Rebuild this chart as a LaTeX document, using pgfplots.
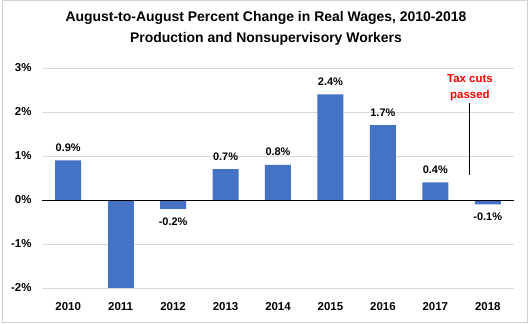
\documentclass[border=0pt]{standalone}
\usepackage{pgfplots}
\pgfplotsset{compat=1.18}
\usepackage{fontspec}
\setmainfont{Liberation Sans}
\definecolor{barblue}{HTML}{4472C4}
\definecolor{gridgray}{HTML}{D9D9D9}
\definecolor{framegray}{HTML}{D0D0D0}
\begin{document}
\begin{tikzpicture}
\useasboundingbox (-42bp,-36bp) rectangle (490bp,288bp);
\draw[framegray] (-39.5bp,-34bp) rectangle (485.5bp,287.5bp);
\node[font=\bfseries\fontsize{14}{21}\selectfont, align=center] at (224bp,260bp)
  {August-to-August Percent Change in Real Wages, 2010-2018\\Production and Nonsupervisory Workers};
\begin{axis}[
  at={(0,0)}, anchor=south west,
  scale only axis, width=472bp, height=220bp,
  ymin=-2, ymax=3, xmin=-0.5, xmax=8.5,
  axis line style={draw=none},
  major tick length=0pt,
  ytick={-2,-1,0,1,2,3},
  yticklabel={\pgfmathprintnumber{\tick}\%},
  xtick={0,1,2,3,4,5,6,7,8},
  xticklabels={2010,2011,2012,2013,2014,2015,2016,2017,2018},
  ymajorgrids, grid style={gridgray, line width=0.8pt},
  tick label style={font=\bfseries\fontsize{11.5}{13}\selectfont},
  yticklabel style={xshift=-7bp},
  xticklabel style={yshift=-11bp},
  /pgf/number format/assume math mode=true,
  ybar, bar width=26bp, bar shift=0pt,
  clip=false,
]
\addplot[fill=barblue, draw=none,
  nodes near coords={\pgfmathprintnumber[fixed,precision=1,fixed zerofill]{\pgfplotspointmeta}\%},
  nodes near coords align={vertical},
  every node near coord/.append style={font=\bfseries\fontsize{11}{13}\selectfont, text=black, inner xsep=2bp, inner ysep=8.5bp, /pgf/number format/assume math mode=true},
] coordinates {(0,0.9) (2,-0.2) (3,0.7) (4,0.8) (5,2.4) (6,1.7) (7,0.4) (8,-0.1)};
\addplot[fill=barblue, draw=none] coordinates {(1,-2.0)};
\draw[black, line width=0.8pt] (axis cs:-0.5,0) -- (axis cs:8.5,0);
\draw[black, line width=0.6pt] (axis cs:7.64,2.2) -- (axis cs:7.64,0.57);
\node[text=red, font=\bfseries\fontsize{11.5}{16}\selectfont, align=center] at (axis cs:7.66,2.56) {Tax cuts\\passed};
\end{axis}
\end{tikzpicture}
\end{document}
